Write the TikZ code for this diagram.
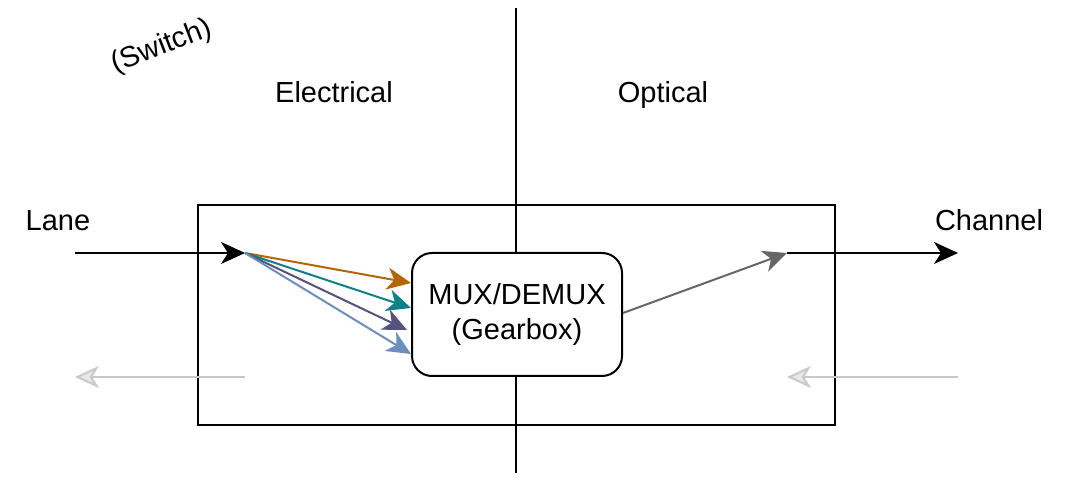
\documentclass[tikz,border=0pt]{standalone}
\usepackage{fontspec}
\setmainfont{Liberation Sans}
\usepackage{xcolor}
\usetikzlibrary{arrows.meta,positioning}

\definecolor{orangeln}{HTML}{B46504}
\definecolor{tealln}{HTML}{0E8088}
\definecolor{purpleln}{HTML}{56517E}
\definecolor{blueln}{HTML}{6C8EBF}
\definecolor{grayln}{HTML}{666666}
\definecolor{backln}{HTML}{C8C8C8}

\begin{document}
\begin{tikzpicture}[x=0.5pt, y=-0.5pt, font=\fontsize{14.5}{17.5}\selectfont,
    wire/.style={line width=1pt, -{Stealth[length=12pt, width=11pt, inset=3.5pt]}},
    back/.style={line width=1pt, draw=backln, -{Stealth[length=12pt, width=11pt, inset=3.5pt, fill=backln!40]}},
    muxbox/.style={draw, line width=1pt, rounded corners=10pt, minimum width=105pt, minimum height=61.5pt, align=center}]
    \useasboundingbox (0,0) rectangle (1075,485);

    % Domain split and enclosure
    \draw[line width=1pt] (198,205) rectangle (835,425);
    \draw[line width=1pt] (516,8) -- (516,473);

    % Labels
    \node[rotate=21] (switch) at (162,47) {(Switch)};
    \node[anchor=base] (elec) at (334,103) {Electrical};
    \node[anchor=base] (opt) at (663,103) {Optical};
    \node[anchor=base] (lane) at (58,231) {Lane};
    \node[anchor=base] (chan) at (989,231) {Channel};

    % Gearbox
    \node[muxbox, fill=white] (mux) at (517,314.5) {MUX/DEMUX\\(Gearbox)};

    % Ingress lane
    \coordinate (lanein) at (75,253);
    \coordinate (split) at (245,253);
    \draw[wire] (lanein) -- (split);
    \draw[wire, orangeln] (split) -- (mux.west |- 0,283);
    \draw[wire, tealln] (split) -- (mux.west |- 0,308);
    \draw[wire, purpleln] (split) -- ([xshift=-2pt]mux.west |- 0,330);
    \draw[wire, blueln] (split) -- (mux.west |- 0,354);

    % Egress channel
    \coordinate (merge) at (787,253);
    \coordinate (chanout) at (958,253);
    \draw[wire, grayln] (mux.east |- 0,313) -- (merge);
    \draw[wire] (merge) -- (chanout);

    % Return path
    \coordinate (chanin) at (958,377);
    \coordinate (rxopt) at (787,377);
    \coordinate (rxel) at (245,377);
    \coordinate (laneout) at (75,377);
    \draw[back] (chanin) -- (rxopt);
    \draw[back] (rxel) -- (laneout);
\end{tikzpicture}
\end{document}
